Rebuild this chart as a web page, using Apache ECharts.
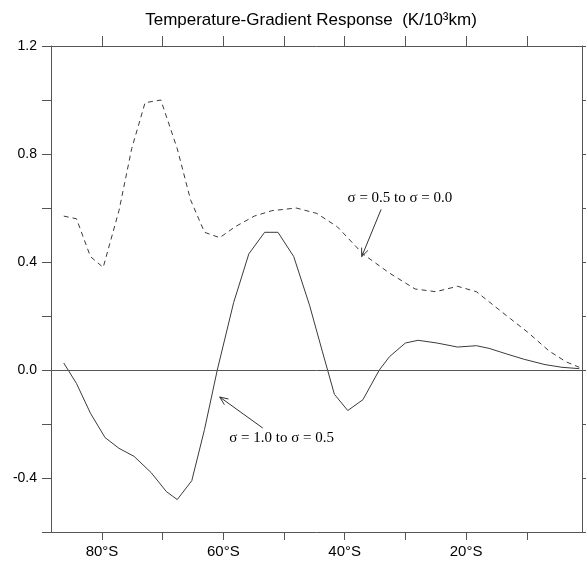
<!DOCTYPE html>
<html><head><meta charset="utf-8">
<script src="https://cdn.jsdelivr.net/npm/echarts@6/dist/echarts.min.js"></script>
<style>html,body{margin:0;padding:0;background:#fff}#c{width:586px;height:563px}</style>
</head><body><div id="c"></div>
<script>
// Latitudes in degrees South
const dashedLat = [86.3, 84.2, 81.9, 79.8, 77.2, 75.1, 72.9, 70.3, 67.6, 65.4, 63.1, 60.6, 58.1, 54.9, 52.0, 48.0, 44.6, 41.2, 37.0, 32.7, 28.4, 25.0, 21.4, 18.3, 15.5, 12.7, 9.85, 6.3, 3.5, 1.35];
const dashedVal = [0.57, 0.56, 0.42, 0.38, 0.59, 0.82, 0.99, 1.00, 0.82, 0.63, 0.51, 0.49, 0.53, 0.57, 0.59, 0.60, 0.58, 0.53, 0.43, 0.36, 0.30, 0.29, 0.31, 0.29, 0.24, 0.19, 0.14, 0.07, 0.03, 0.01];
const solidLat = [86.3, 84.2, 81.9, 79.5, 77.2, 74.7, 71.9, 69.4, 67.6, 65.2, 63.1, 61.0, 58.3, 55.8, 53.2, 51.0, 48.4, 45.8, 43.7, 41.7, 39.5, 37.0, 34.3, 32.6, 30.0, 27.9, 24.8, 21.4, 18.3, 16.2, 13.4, 10.5, 7.0, 4.2, 1.35];
const solidVal = [0.026, -0.05, -0.16, -0.25, -0.29, -0.32, -0.38, -0.45, -0.48, -0.41, -0.22, 0.0, 0.25, 0.43, 0.51, 0.51, 0.42, 0.24, 0.07, -0.09, -0.15, -0.11, 0.0, 0.05, 0.10, 0.11, 0.10, 0.085, 0.09, 0.08, 0.06, 0.04, 0.02, 0.01, 0.005];
const xTickLat = [10, 20, 30, 40, 50, 60, 70, 80];
const xLabelLat = [20, 40, 60, 80];
const titleText = 'Temperature-Gradient Response  (K/10³km)';
const notes = [
  {text: 'σ = 0.5 to σ = 0.0', at: [30.9, 0.635], from: [34.0, 0.595], to: [37.2, 0.42]},
  {text: 'σ = 1.0 to σ = 0.5', at: [50.4, -0.253], from: [53.5, -0.215], to: [60.6, -0.10]}
];

const AX = '#555';
const SANS = 'Liberation Sans, Arial, sans-serif';
const chart = echarts.init(document.getElementById('c'));
const pair = (lat, val) => lat.map((l, i) => [l, val[i]]);

const xBase = {
  type: 'value', min: 0.9, max: 88.4, inverse: true,
  axisLine: {show: true, onZero: false, lineStyle: {color: AX, width: 1}},
  splitLine: {show: false}
};
const yBase = {
  type: 'value', min: -0.6, max: 1.2, interval: 0.2,
  axisLine: {show: true, onZero: false, lineStyle: {color: AX, width: 1}},
  splitLine: {show: false}
};

chart.setOption({
  animation: false,
  grid: {left: 51, right: 4, top: 46, bottom: 31},
  xAxis: [
    Object.assign({}, xBase, {
      position: 'bottom',
      axisTick: {show: true, length: 8, customValues: xTickLat, lineStyle: {color: AX}},
      axisLabel: {customValues: xLabelLat, formatter: v => v + '°S', fontSize: 15, color: '#000', margin: 12, fontFamily: SANS}
    }),
    Object.assign({}, xBase, {
      position: 'top',
      axisTick: {show: true, length: 10, customValues: xTickLat, lineStyle: {color: AX}},
      axisLabel: {show: false}
    })
  ],
  yAxis: [
    Object.assign({}, yBase, {
      position: 'left',
      axisTick: {show: true, length: 9, lineStyle: {color: AX}},
      axisLabel: {
        formatter: v => (Math.round(v * 10) % 4 === 0 ? v.toFixed(1) : ''),
        fontSize: 14, color: '#000', margin: 14, fontFamily: SANS
      }
    }),
    Object.assign({}, yBase, {
      position: 'right',
      axisTick: {show: true, length: 5, lineStyle: {color: AX}},
      axisLabel: {show: false}
    })
  ],
  series: [
    {
      type: 'line', data: pair(dashedLat, dashedVal), showSymbol: false, symbol: 'none',
      lineStyle: {type: [5, 4], width: 1, color: '#3a3a3a'}
    },
    {
      type: 'line', data: pair(solidLat, solidVal), showSymbol: false, symbol: 'none',
      lineStyle: {type: 'solid', width: 1, color: '#3a3a3a'},
      markLine: {
        silent: true, symbol: ['none', 'none'], label: {show: false},
        lineStyle: {color: AX, type: 'solid', width: 1},
        data: [{yAxis: 0}]
      }
    }
  ]
});

const toPx = p => chart.convertToPixel({xAxisIndex: 0, yAxisIndex: 0}, p);
const elements = [{
  type: 'text', x: 311, y: 20,
  style: {text: titleText, fontSize: 17, fontFamily: SANS, fill: '#000', align: 'center', verticalAlign: 'middle'}
}];
notes.forEach(n => {
  const a = toPx(n.at), f = toPx(n.from), t = toPx(n.to);
  elements.push({
    type: 'text', x: a[0], y: a[1],
    style: {text: n.text, fontSize: 15, fontFamily: 'Liberation Serif, Times New Roman, serif', fill: '#000', align: 'center', verticalAlign: 'middle'}
  });
  const ang = Math.atan2(t[1] - f[1], t[0] - f[0]);
  const L = 9, h = 0.4;
  const p1 = [t[0] - L * Math.cos(ang - h), t[1] - L * Math.sin(ang - h)];
  const p2 = [t[0] - L * Math.cos(ang + h), t[1] - L * Math.sin(ang + h)];
  const ls = {stroke: '#333', lineWidth: 1, fill: null};
  elements.push({type: 'line', shape: {x1: f[0], y1: f[1], x2: t[0], y2: t[1]}, style: ls});
  elements.push({type: 'polyline', shape: {points: [p1, t, p2]}, style: ls});
});
chart.setOption({graphic: elements});
</script></body></html>
